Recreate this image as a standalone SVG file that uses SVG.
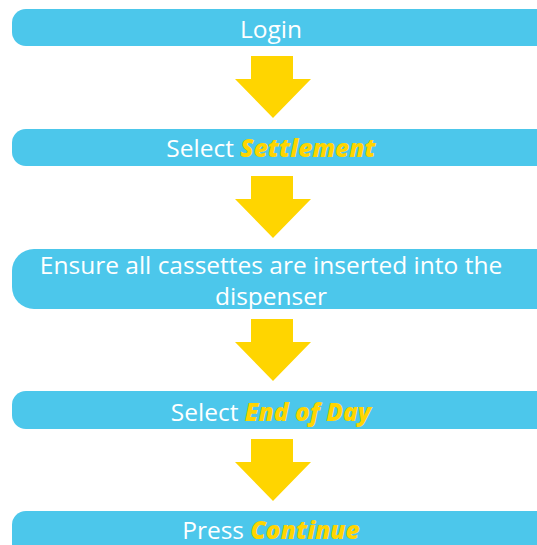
<svg xmlns="http://www.w3.org/2000/svg" width="537" height="545" viewBox="0 0 537 545">
<style>
.box{fill:#4CC7EB}
.arr{fill:#FFD500}
.t{font-family:"Open Sans",Lato,sans-serif;font-size:24.5px;fill:#fff;text-anchor:middle}
.h{font-weight:800;font-style:italic;fill:#FFD500}
</style>
<defs>
<path id="arrow" d="M251 0H293V23H311L273 62L235 23H251Z"/>
</defs>
<rect width="537" height="545" fill="#fff"/>
<g id="connectors">
<use href="#arrow" class="arr" y="56"/>
<use href="#arrow" class="arr" y="176"/>
<use href="#arrow" class="arr" y="319"/>
<use href="#arrow" class="arr" y="439"/>
</g>
<g id="n1"><rect class="box" x="12" y="9" width="560" height="37" rx="14"/><text class="t" x="271" y="38">Login</text></g>
<g id="n2"><rect class="box" x="12" y="129" width="560" height="37" rx="14"/><text class="t" x="271" y="157">Select <tspan class="h">Settlement</tspan></text></g>
<g id="n3"><rect class="box" x="12" y="249" width="560" height="60" rx="22"/><text class="t" x="271" y="274">Ensure all cassettes are inserted into the</text><text class="t" x="271" y="305">dispenser</text></g>
<g id="n4"><rect class="box" x="12" y="391" width="560" height="38" rx="14"/><text class="t" x="271" y="421">Select <tspan class="h">End of Day</tspan></text></g>
<g id="n5"><rect class="box" x="12" y="511" width="560" height="50" rx="14"/><text class="t" x="271" y="539">Press <tspan class="h">Continue</tspan></text></g>
</svg>
